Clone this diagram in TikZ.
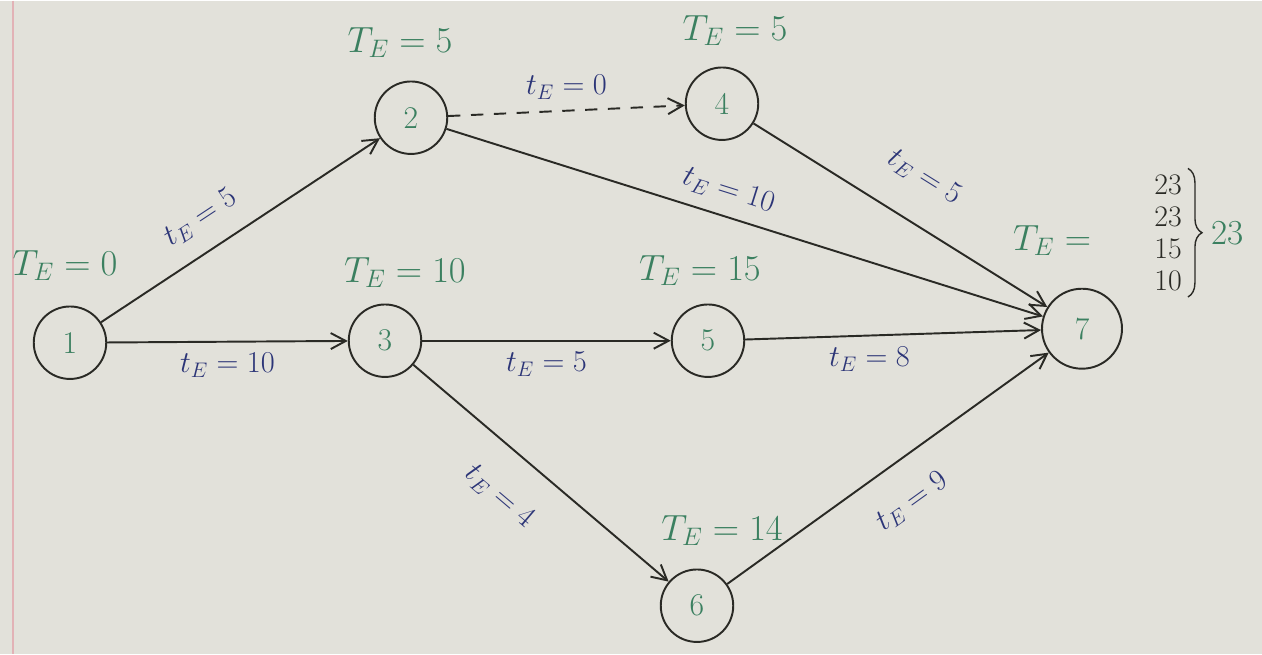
\documentclass[tikz,border=0pt]{standalone}
\usepackage{tikz}
\usetikzlibrary{positioning,arrows.meta,decorations.pathreplacing}
\definecolor{pgpaper}{HTML}{E2E1DA}
\definecolor{pgink}{HTML}{2A2A25}
\definecolor{pggreen}{HTML}{3B8060}
\definecolor{pgblue}{HTML}{2C3577}
\definecolor{pgmargin}{HTML}{E2B2B6}
\tikzset{
  ev/.style={circle,draw=pgink,line width=1.1pt,minimum size=14.5mm,inner sep=0pt,text=pggreen,font=\fontsize{18}{20}\selectfont},
  tlab/.style={text=pggreen,font=\fontsize{20}{24}\selectfont},
  dlab/.style={text=pgblue,font=\fontsize{17}{20}\selectfont,inner sep=2pt},
  act/.style={-{Straight Barb[length=3mm,width=3.2mm]},line width=1.1pt,draw=pgink},
  dummy/.style={act,dash pattern=on 7pt off 6pt},
}

\begin{document}
\begin{tikzpicture}[x=0.02cm,y=-0.02cm]
  % paper
  \fill[pgpaper] (0,0) rectangle (1262,653);
  \draw[pgmargin,thick] (13,0) -- (13,653);
  \useasboundingbox (0,0) rectangle (1262,653);

  % events
  \node[ev] (e1) at (70,342) {1};
  \node[ev] (e2) at (411,117) {2};
  \node[ev] (e4) at (722,103) {4};
  \node[ev] (e3) at (385,340) {3};
  \node[ev] (e5) at (708,340) {5};
  \node[ev,minimum size=16mm] (e7) at (1082,328) {7};
  \node[ev] (e6) at (697,605) {6};

  % earliest event times
  \node[tlab] (te1) at (65,265) {$T_E = 0$};
  \node[tlab] (te2) at (400,42) {$T_E = 5$};
  \node[tlab] (te4) at (735,30) {$T_E = 5$};
  \node[tlab] (te3) at (405,272) {$T_E = 10$};
  \node[tlab] (te5) at (700,270) {$T_E = 15$};
  \node[tlab] (te6) at (722,530) {$T_E = 14$};
  \node[tlab] (te7) at (1052,240) {$T_E =$};
  \node[font=\fontsize{17}{18.2}\selectfont,text=pgink,align=center] (cand) at (1168,232) {23\\23\\15\\10};
  \draw[pgink,thick,decorate,decoration={brace,amplitude=8pt}] (cand.north east) -- (cand.south east) coordinate[midway] (brc);
  \node[tlab,right=10pt of brc] (te7max) {23};

  % activities
  \draw[act] (e1) -- (e2) node[dlab,pos=0.42,sloped,above=9pt] {$t_E = 5$};
  \draw[act] (e1) -- (e3) node[dlab,pos=0.5,below=4pt] {$t_E = 10$};
  \draw[dummy] (e2) -- (e4) node[dlab,pos=0.5,above=4pt] {$t_E = 0$};
  \draw[act] (e2) -- (e7) node[dlab,pos=0.46,sloped,above=5pt] {$t_E = 10$};
  \draw[act] (e4) -- (e7) node[dlab,pos=0.5,sloped,above=16pt] {$t_E = 5$};
  \draw[act] (e3) -- (e5) node[dlab,pos=0.5,below=4pt] {$t_E = 5$};
  \draw[act] (e5) -- (e7) node[dlab,pos=0.42,below=4pt] {$t_E = 8$};
  \draw[act] (e3) -- (e6) node[dlab,pos=0.45,sloped,below=16pt] {$t_E = 4$};
  \draw[act] (e6) -- (e7) node[dlab,pos=0.5,sloped,below=14pt] {$t_E = 9$};
\end{tikzpicture}
\end{document}
